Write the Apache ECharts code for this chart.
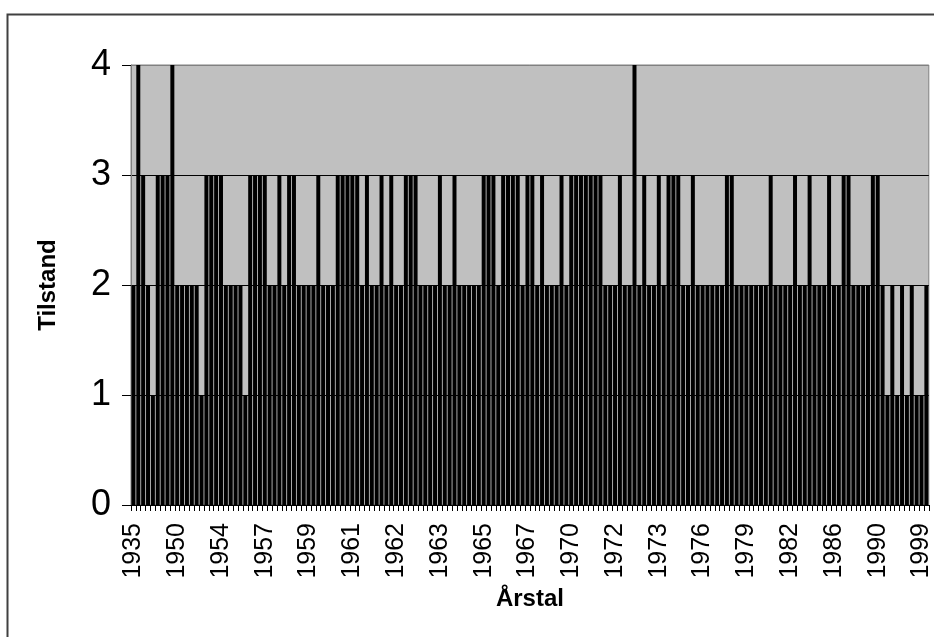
<!DOCTYPE html>
<html>
<head>
<meta charset="utf-8">
<script src="https://cdn.jsdelivr.net/npm/echarts@6/dist/echarts.min.js"></script>
<style>
  html, body { margin: 0; padding: 0; background: #fff; }
  #chart { width: 934px; height: 637px; }
</style>
</head>
<body>
<div id="chart"></div>
<script>
// Observation year for each bar (several observations can share a year)
const years = [
  '1935','1936','1938','1940','1942','1944','1946','1947','1949',
  '1950','1950','1951','1951','1952','1952','1953','1953','1953',
  '1954','1954','1955','1955','1955','1956','1956','1956','1956',
  '1957','1957','1957','1958','1958','1958','1958','1958','1959',
  '1959','1959','1960','1960','1960','1960','1960','1961','1961',
  '1961','1961','1961','1961','1961','1962','1962','1962','1962',
  '1962','1962','1962','1962','1962','1963','1963','1963','1963',
  '1963','1963','1964','1964','1964','1964','1964','1965','1965',
  '1965','1965','1966','1966','1966','1966','1966','1967','1967',
  '1967','1967','1968','1968','1968','1969','1969','1969','1970',
  '1970','1970','1970','1971','1971','1971','1971','1972','1972',
  '1972','1972','1972','1972','1973','1973','1973','1973','1973',
  '1973','1974','1974','1974','1975','1975','1975','1976','1976',
  '1976','1977','1977','1977','1978','1978','1978','1979','1979',
  '1979','1980','1980','1980','1981','1981','1981','1982','1982',
  '1982','1983','1983','1984','1984','1985','1985','1985','1986',
  '1986','1987','1987','1988','1988','1989','1989','1989','1990',
  '1990','1991','1992','1993','1994','1995','1996','1997','1998',
  '1999','2000'
];

// Condition class ("Tilstand") recorded for each observation
const tilstand = [
  2,4,3,2,1,3,3,3,4,2,
  2,2,2,2,1,3,3,3,3,2,
  2,2,2,1,3,3,3,3,2,2,
  3,2,3,3,2,2,2,2,3,2,
  2,2,3,3,3,3,3,2,3,2,
  2,3,2,3,2,2,3,3,3,2,
  2,2,2,3,2,2,3,2,2,2,
  2,2,3,3,3,2,3,3,3,3,
  2,3,3,2,3,2,2,2,3,2,
  3,3,3,3,3,3,3,2,2,2,
  3,2,2,4,2,3,2,2,3,2,
  3,3,3,2,2,3,2,2,2,2,
  2,2,3,3,2,2,2,2,2,2,
  2,3,2,2,2,2,3,2,2,3,
  2,2,2,3,2,2,3,3,2,2,
  2,2,3,3,2,1,2,1,2,1,
  2,1,1,2
];

const yTicks = [0, 1, 2, 3, 4];

const font = 'Arial, "Liberation Sans", sans-serif';
const chart = echarts.init(document.getElementById('chart'), null, { renderer: 'canvas' });

chart.setOption({
  animation: false,
  backgroundColor: '#ffffff',
  graphic: [{
    type: 'rect',
    left: 5, top: 12,
    shape: { width: 940, height: 640 },
    style: { fill: 'none', stroke: '#404040', lineWidth: 2 },
    silent: true, z: 100
  }],
  grid: {
    left: 131, right: 5, top: 65, bottom: 132,
    show: true,
    backgroundColor: '#c0c0c0',
    borderColor: '#808080',
    borderWidth: 1
  },
  xAxis: {
    type: 'category',
    data: years,
    name: 'Årstal',
    nameLocation: 'middle',
    nameGap: 82,
    nameTextStyle: { fontFamily: font, fontWeight: 'bold', fontSize: 24, color: '#000' },
    axisLine: { show: true, lineStyle: { color: '#000', width: 1 } },
    axisTick: { show: true, interval: 0, length: 6, lineStyle: { color: '#000', width: 1 } },
    axisLabel: {
      interval: 8,
      rotate: 90,
      margin: 18,
      fontFamily: font,
      fontSize: 25,
      color: '#000'
    },
    splitLine: { show: false }
  },
  yAxis: {
    type: 'value',
    min: yTicks[0],
    max: yTicks[yTicks.length - 1],
    interval: 1,
    name: 'Tilstand',
    nameLocation: 'middle',
    nameGap: 71,
    nameTextStyle: { fontFamily: font, fontWeight: 'bold', fontSize: 24, color: '#000' },
    axisLine: { show: true, lineStyle: { color: '#808080', width: 1 } },
    axisTick: { show: true, length: 9, lineStyle: { color: '#000', width: 1 } },
    axisLabel: {
      margin: 20,
      fontFamily: font,
      fontSize: 36,
      color: '#000',
      formatter: v => yTicks.includes(v) ? String(v) : ''
    },
    splitLine: {
      show: true,
      lineStyle: { color: ['#000', '#000', '#000', '#000', '#808080'], width: 1 }
    }
  },
  series: [{
    type: 'bar',
    data: tilstand,
    barCategoryGap: '18%',
    itemStyle: { color: '#000', borderColor: '#000', borderWidth: 0 }
  }]
});
</script>
</body>
</html>
